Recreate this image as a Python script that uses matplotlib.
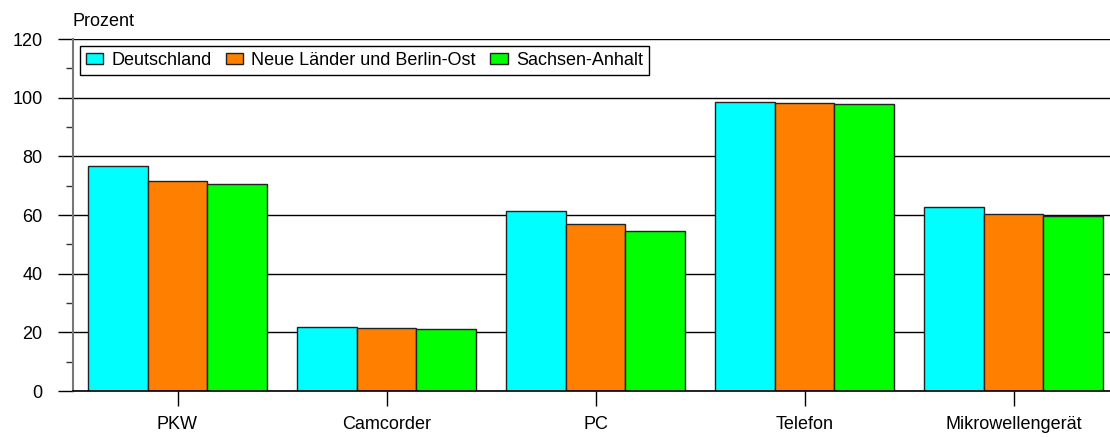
import matplotlib
matplotlib.use("Agg")
import matplotlib.pyplot as plt
import numpy as np
from matplotlib.ticker import MultipleLocator

categories = ["PKW", "Camcorder", "PC", "Telefon", "Mikrowellengerät"]
series_names = ["Deutschland", "Neue Länder und Berlin-Ost", "Sachsen-Anhalt"]
deutschland = [76.8, 21.7, 61.3, 98.5, 62.6]
neue_laender = [71.7, 21.4, 57.0, 98.3, 60.2]
sachsen_anhalt = [70.4, 21.0, 54.5, 97.7, 59.8]
colors = ["#00FFFF", "#FF8000", "#00FF00"]

plt.rcParams['font.family'] = ['Liberation Sans', 'DejaVu Sans']
FS = 13

W, H = 1110, 437
fig = plt.figure(figsize=(W / 100, H / 100), dpi=100)
ax = fig.add_axes([73 / W, 46 / H, 1045 / W, 352 / H])

x = np.arange(len(categories))
bw = 0.284
for i, (vals, name, c) in enumerate(zip([deutschland, neue_laender, sachsen_anhalt], series_names, colors)):
    ax.bar(x + (i - 1) * bw, vals, width=bw, color=c, edgecolor="#222222",
           linewidth=1.0, label=name, zorder=3)

ax.set_xlim(-0.5, len(categories) - 0.5)
ax.set_ylim(0, 120)
ax.yaxis.set_major_locator(MultipleLocator(20))
ax.yaxis.set_minor_locator(MultipleLocator(10))
ax.set_xticks(x)
ax.set_xticklabels(categories, fontsize=FS)
ax.tick_params(axis="y", which="major", length=10.8, width=1.0, color="black",
               labelsize=FS, pad=11)
ax.tick_params(axis="y", which="minor", length=5, width=1.0, color="#333333")
ax.tick_params(axis="x", which="major", length=10.8, width=1.0, color="black",
               labelsize=FS, pad=7)

ax.grid(axis="y", which="major", color="black", linewidth=1.0, zorder=0)
ax.set_axisbelow(True)
for s in ["top", "right"]:
    ax.spines[s].set_visible(False)
ax.spines["bottom"].set_color("black")
ax.spines["bottom"].set_linewidth(1.2)
ax.spines["bottom"].set_zorder(4)
ax.spines["left"].set_color("#777777")
ax.spines["left"].set_linewidth(1.5)
ax.spines["left"].set_zorder(1)

leg = ax.legend(loc="upper left", bbox_to_anchor=(7 / 1045, 1 - 7 / 352),
                borderaxespad=0, ncol=3, fontsize=FS, frameon=True, fancybox=False,
                edgecolor="black", framealpha=1, handlelength=0.96, handleheight=0.55,
                handletextpad=0.45, columnspacing=0.8, borderpad=0.32)
leg.get_frame().set_linewidth(1.0)
leg.set_zorder(5)

fig.text(73 / W, 1 - 22 / H, "Prozent", fontsize=FS, ha="left", va="center")

fig.savefig("out.png", dpi=100)
